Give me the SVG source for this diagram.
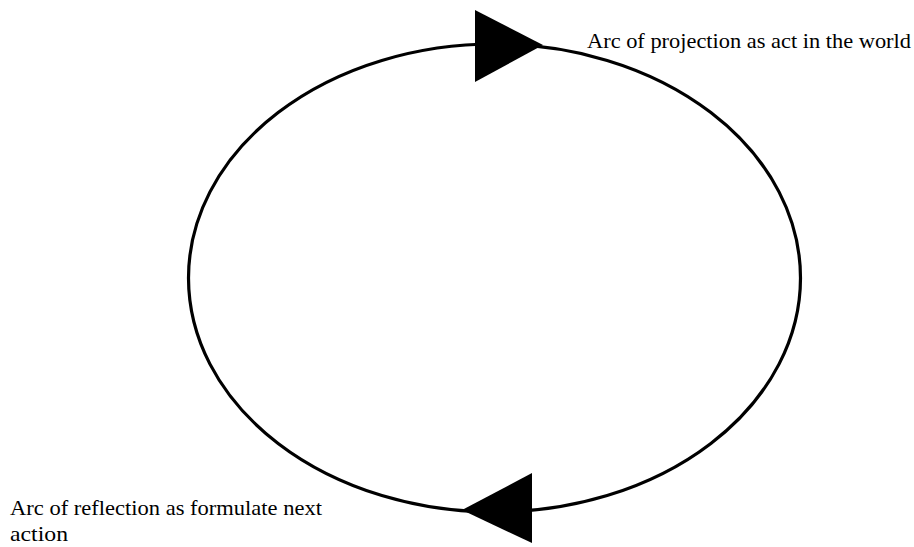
<svg xmlns="http://www.w3.org/2000/svg" width="914" height="547" viewBox="0 0 914 547">
<style>
.lbl{font-family:"Liberation Serif","Times New Roman",serif;font-size:21px;fill:#000}
.cyc{fill:none;stroke:#000;stroke-width:3.2}
.head{fill:#000;stroke:none}
</style>
<rect width="914" height="547" fill="#fff"/>
<g id="connectors">
<ellipse class="cyc" cx="494.5" cy="278" rx="306" ry="234"/>
<polygon class="head" points="475,10 475,82 543,45"/>
<polygon class="head" points="532,473 532,543 462,510"/>
</g>
<g id="label-projection">
<text class="lbl" x="587" y="48" textLength="324" lengthAdjust="spacingAndGlyphs">Arc of projection as act in the world</text>
</g>
<g id="label-reflection">
<text class="lbl" x="10" y="515" textLength="312" lengthAdjust="spacingAndGlyphs">Arc of reflection as formulate next</text>
<text class="lbl" x="10" y="541" textLength="58" lengthAdjust="spacingAndGlyphs">action</text>
</g>
</svg>
